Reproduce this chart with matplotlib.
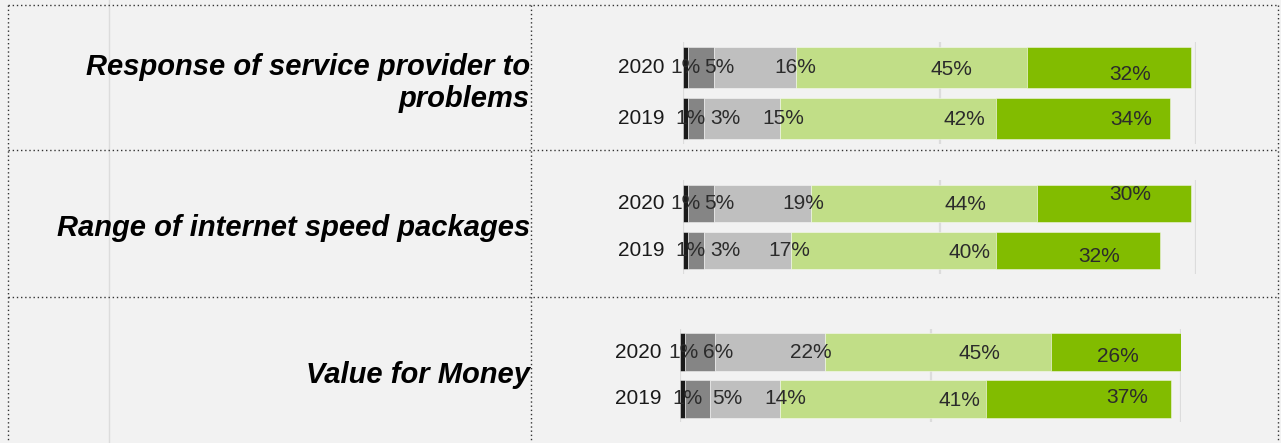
import matplotlib
matplotlib.use('Agg')
from matplotlib import pyplot as plt
from matplotlib.lines import Line2D

matplotlib.rc('font', family=['Liberation Sans', 'DejaVu Sans'])

W, H = 1281, 443

categories = ['Response of service provider to\nproblems',
              'Range of internet speed packages',
              'Value for Money']
years = ['2020', '2019']

# shares per segment, darkest -> brightest green
resp_2020 = [1, 5, 16, 45, 32]
resp_2019 = [1, 3, 15, 42, 34]
range_2020 = [1, 5, 19, 44, 30]
range_2019 = [1, 3, 17, 40, 32]
value_2020 = [1, 6, 22, 45, 26]
value_2019 = [1, 5, 14, 41, 37]

seg_colors = ['#1a1a1a', '#858585', '#bfbfbf', '#c1de87', '#82bc00']

# where the data labels sit (in % along the bar) and their vertical nudge in px
lab_x = [
    [[0.4, 7.0, 21.8, 52.4, 87.1], [1.4, 8.2, 19.5, 54.8, 87.3]],
    [[0.4, 7.0, 23.4, 55.0, 87.1], [1.4, 8.2, 20.7, 55.8, 81.1]],
    [[0.6, 7.6, 26.1, 59.7, 87.4], [1.4, 9.4, 21.1, 55.7, 89.2]],
]
lab_dy = [
    [[0, 0, 0, 2, 6.5], [0, 0, 0, 1, 1]],
    [[0, 0, 0, 1.5, -9.5], [0, 0, 0, 1.5, 6.5]],
    [[0, 0, 0, 1, 4], [0, 0, 0, 1.5, -1.5]],
]

panels = [(resp_2020, resp_2019), (range_2020, range_2019), (value_2020, value_2019)]

# axes boxes in pixels: left, top, width, height
boxes = [(683, 42, 513, 102), (683, 180, 513, 94), (680, 329, 501, 93)]
bar_h = [0.8, 0.79, 0.82]
cat_y = [107, 236, 383]  # baseline of the last line

fig = plt.figure(figsize=(W / 100, H / 100), dpi=100, facecolor='#f2f2f2')


def fx(x):
    return x / W


def fy(y):
    return 1 - y / H


for i, (rows, box) in enumerate(zip(panels, boxes)):
    l, t, w, h = box
    ax = fig.add_axes([fx(l), fy(t + h), w / W, h / H])
    ax.set_facecolor('none')
    ax.set_xlim(0, 100)
    ax.set_ylim(1.5, -0.5)
    for gx in (0, 50, 100):
        ax.axvline(gx, color='#dcdcdc', lw=1.6, zorder=0)
    for j, vals in enumerate(rows):
        left = 0
        for k, v in enumerate(vals):
            ax.barh(j, v, left=left, height=bar_h[i], color=seg_colors[k],
                    edgecolor=(1, 1, 1, 0.45), linewidth=0.7, zorder=2)
            ax.annotate(f'{v}%', (lab_x[i][j][k], j), xytext=(0, -lab_dy[i][j][k] * 0.72),
                        textcoords='offset points', ha='center', va='center',
                        fontsize=15, color='#2b2b2b', zorder=3)
            left += v
        ax.text(-3.7, j, years[j], ha='right', va='center', fontsize=15, color='#1a1a1a')
    ax.axis('off')

    fig.text(fx(530), fy(cat_y[i]), categories[i], ha='right', va='baseline',
             fontsize=21, fontweight='bold', fontstyle='italic', color='black',
             linespacing=1.2)

# light solid line at left
fig.add_artist(Line2D([fx(109), fx(109)], [0, 1], color='#dcdcdc', lw=1))

# dotted frame
dot = dict(color='#333333', lw=1.0, linestyle=(0, (1, 2)))
for y in (5, 150, 297):
    fig.add_artist(Line2D([fx(8), fx(1278)], [fy(y), fy(y)], **dot))
for x in (8, 531, 1278):
    fig.add_artist(Line2D([fx(x), fx(x)], [fy(5), 0], **dot))

fig.savefig('out.png', dpi=100, facecolor=fig.get_facecolor())
